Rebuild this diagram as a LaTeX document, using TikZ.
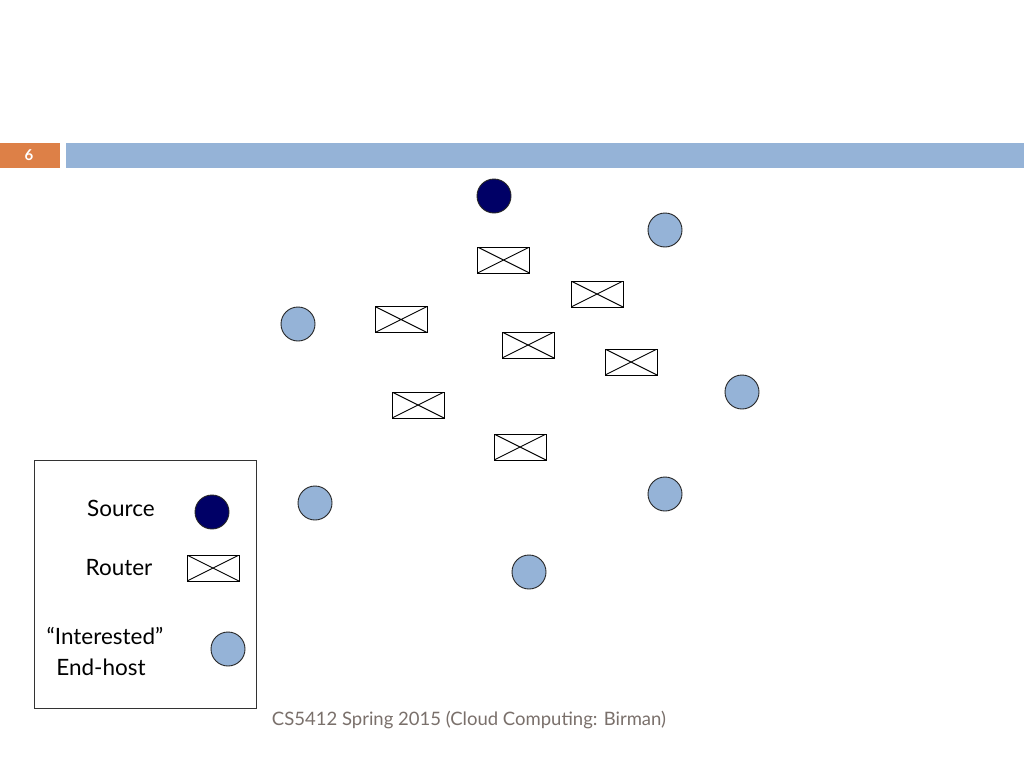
\documentclass[tikz,border=0pt]{standalone}
\usepackage{fontspec}
\setmainfont{Lato}
\definecolor{barblue}{HTML}{95B3D7}
\definecolor{barorange}{HTML}{DD8047}
\definecolor{srcblue}{HTML}{000066}
\definecolor{footgray}{HTML}{7A706B}
\tikzset{
  router/.style={draw=black, line width=1pt, fill=white, minimum width=52pt, minimum height=26pt, inner sep=0pt, rectangle,
    path picture={\draw[line width=0.9pt] (path picture bounding box.north west) -- (path picture bounding box.south east)
      (path picture bounding box.south west) -- (path picture bounding box.north east);}},
  host/.style={circle, draw=black!85, line width=0.9pt, fill=barblue, minimum size=34pt, inner sep=0pt},
  source/.style={circle, draw=black!85, line width=0.9pt, fill=srcblue, minimum size=34pt, inner sep=0pt},
  legtext/.style={font=\fontsize{22.5}{26}\selectfont, inner sep=0pt},
}
\begin{document}
\begin{tikzpicture}[x=1pt,y=-1pt]
\useasboundingbox (0,0) rectangle (1024,768);
\fill[white] (0,0) rectangle (1024,768);
% header
\fill[barorange] (0,143) rectangle (60,168);
\node[text=white, font=\bfseries\fontsize{15}{17}\selectfont, inner sep=0pt] (pnum) at (29,155) {6};
\fill[barblue] (66,143) rectangle (1024,168);
% source
\node[source] (src) at (494,196) {};
% end hosts
\node[host] (h1) at (665,230) {};
\node[host] (h2) at (298,324) {};
\node[host] (h3) at (742,392) {};
\node[host] (h4) at (665,494) {};
\node[host] (h5) at (315,503) {};
\node[host] (h6) at (529,572) {};
% routers
\node[router] (r1) at (503.5,260) {};
\node[router] (r2) at (597,294) {};
\node[router] (r3) at (401,319.5) {};
\node[router] (r4) at (528,345) {};
\node[router] (r5) at (631,362) {};
\node[router] (r6) at (418,405) {};
\node[router] (r7) at (520,447) {};
% legend
\node[draw=black!80, line width=0.8pt, minimum width=222pt, minimum height=248pt, inner sep=0pt] (legend) at (145,584) {};
\node[legtext] (lsrc) at (121,508) {Source};
\node[source] (lsrcsym) at (212,512) {};
\node[legtext] (lrt) at (119,568) {Router};
\node[router] (lrtsym) at (213,568) {};
\node[legtext] (lint) at (105,636) {“Interested”};
\node[legtext] (lend) at (101,667) {End-host};
\node[host] (lhost) at (228,649) {};
% footer
\node[text=footgray, font=\fontsize{18.5}{22}\selectfont, inner sep=0pt] (foot) at (469,720) {CS5412 Spring 2015 (Cloud Computing: Birman)};
\end{tikzpicture}
\end{document}
